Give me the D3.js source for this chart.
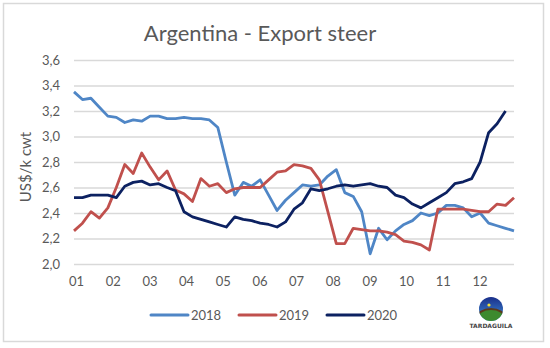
<!DOCTYPE html>
<html>
<head>
<meta charset="utf-8">
<script src="https://cdnjs.cloudflare.com/ajax/libs/d3/7.8.5/d3.min.js"></script>
<style>
  body { margin: 0; background: #fff; }
  svg { display: block; }
</style>
</head>
<body>
<svg width="550" height="348"></svg>
<script>
// weekly export steer prices, US$/k cwt
var months = ["01", "02", "03", "04", "05", "06", "07", "08", "09", "10", "11", "12"];
var yTicks = [2.0, 2.2, 2.4, 2.6, 2.8, 3.0, 3.2, 3.4, 3.6];
var seriesNames = ["2018", "2019", "2020"];
var seriesColors = ["#4f86c6", "#c0504d", "#0c2161"];

var s2018 = [3.35, 3.29, 3.30, 3.23, 3.16, 3.15, 3.11, 3.13, 3.12, 3.16,
             3.16, 3.14, 3.14, 3.15, 3.14, 3.14, 3.13, 3.07, 2.80, 2.54,
             2.64, 2.61, 2.66, 2.54, 2.42, 2.50, 2.56, 2.62, 2.61, 2.62,
             2.69, 2.74, 2.56, 2.53, 2.41, 2.08, 2.28, 2.19, 2.26, 2.31,
             2.34, 2.40, 2.38, 2.40, 2.46, 2.46, 2.44, 2.37, 2.40, 2.32,
             2.30, 2.28, 2.26];
var s2019 = [2.26, 2.32, 2.41, 2.36, 2.44, 2.60, 2.78, 2.71, 2.87, 2.76,
             2.66, 2.73, 2.58, 2.55, 2.49, 2.67, 2.61, 2.63, 2.56, 2.59,
             2.60, 2.60, 2.60, 2.66, 2.72, 2.73, 2.78, 2.77, 2.75, 2.66,
             2.41, 2.16, 2.16, 2.28, 2.27, 2.26, 2.26, 2.25, 2.23, 2.18,
             2.17, 2.15, 2.11, 2.43, 2.43, 2.43, 2.43, 2.42, 2.41, 2.41,
             2.47, 2.46, 2.52];
var s2020 = [2.52, 2.52, 2.54, 2.54, 2.54, 2.52, 2.61, 2.64, 2.65, 2.62,
             2.63, 2.60, 2.575, 2.41, 2.37, 2.35, 2.33, 2.31, 2.29, 2.37,
             2.35, 2.34, 2.32, 2.31, 2.29, 2.33, 2.43, 2.48, 2.59, 2.575,
             2.59, 2.61, 2.62, 2.61, 2.62, 2.63, 2.61, 2.60, 2.54, 2.52,
             2.47, 2.44, 2.48, 2.52, 2.56, 2.63, 2.645, 2.67, 2.80, 3.03,
             3.10, 3.20];

function main() {
    var svg = d3.select("svg"),
        margin = {top: 60, left: 74},
        width = 440,
        height = 204,
        textColor = "#595959",
        font = "Lato, 'Open Sans', sans-serif";

    // chart frame
    svg.append("rect")
       .attr("x", 3.5).attr("y", 3.5)
       .attr("width", 540).attr("height", 338)
       .attr("fill", "#fff")
       .attr("stroke", "#d9d9d9")
       .attr("stroke-width", 1.5);

    svg.append("text")
       .attr("x", 260)
       .attr("y", 41)
       .attr("text-anchor", "middle")
       .attr("font-family", font)
       .attr("font-size", "22px")
       .attr("fill", textColor)
       .text("Argentina - Export steer");

    var xScale = d3.scaleLinear().domain([0, 52]).range([0, width]),
        yScale = d3.scaleLinear().domain([2.0, 3.6]).range([height, 0]);

    var g = svg.append("g")
               .attr("transform", "translate(" + margin.left + "," + margin.top + ")");

    // gridlines + y labels
    var yAxis = g.append("g")
       .call(d3.axisLeft(yScale)
               .tickValues(yTicks)
               .tickSize(-width)
               .tickPadding(14)
               .tickFormat(function(d) { return d3.format(".1f")(d).replace(".", ","); }));
    yAxis.select(".domain").remove();
    yAxis.selectAll("line").attr("stroke", "#d9d9d9").attr("stroke-width", 1.3);
    yAxis.selectAll("text")
         .attr("fill", textColor)
         .attr("font-family", font)
         .attr("font-size", "13px");

    // month labels, one every 52/12 weeks
    var xAxis = g.append("g")
       .attr("transform", "translate(0," + height + ")")
       .call(d3.axisBottom(xScale)
               .tickValues(months.map(function(m, i) { return i * 52 / 12 + 0.25; }))
               .tickSize(0)
               .tickPadding(13)
               .tickFormat(function(d, i) { return months[i]; }));
    xAxis.select(".domain").remove();
    xAxis.selectAll("text")
         .attr("fill", textColor)
         .attr("font-family", font)
         .attr("font-size", "13px");

    g.append("text")
     .attr("transform", "rotate(-90)")
     .attr("x", -(167 - margin.top))
     .attr("y", -43)
     .attr("text-anchor", "middle")
     .attr("font-family", font)
     .attr("font-size", "15px")
     .attr("fill", textColor)
     .text("US$/k cwt");

    var line = d3.line()
                 .x(function(d, i) { return xScale(i); })
                 .y(function(d) { return yScale(d); });

    var data = [s2018, s2019, s2020];
    g.selectAll(".series")
     .data(data)
     .enter().append("path")
     .attr("class", "series")
     .attr("d", line)
     .attr("fill", "none")
     .attr("stroke", function(d, i) { return seriesColors[i]; })
     .attr("stroke-width", 2.8)
     .attr("stroke-linejoin", "round");

    // legend
    var legend = svg.append("g").attr("transform", "translate(151,315)");
    var item = legend.selectAll(".item")
                     .data(seriesNames)
                     .enter().append("g")
                     .attr("class", "item")
                     .attr("transform", function(d, i) { return "translate(" + (i * 88) + ",0)"; });
    item.append("line")
        .attr("x1", 0).attr("x2", 37)
        .attr("stroke", function(d, i) { return seriesColors[i]; })
        .attr("stroke-width", 3)
        .attr("stroke-linecap", "round");
    item.append("text")
        .attr("x", 40)
        .attr("dy", "0.35em")
        .attr("font-family", font)
        .attr("font-size", "13px")
        .attr("fill", textColor)
        .text(function(d) { return d; });

    // Tardaguila logo
    var defs = svg.append("defs");
    var grad = defs.append("linearGradient")
                   .attr("id", "sky")
                   .attr("x1", 0).attr("y1", 0).attr("x2", 0).attr("y2", 1);
    grad.append("stop").attr("offset", "0%").attr("stop-color", "#1a2f8a");
    grad.append("stop").attr("offset", "100%").attr("stop-color", "#3f8fd8");
    defs.append("clipPath").attr("id", "logoClip")
        .append("circle").attr("cx", 491).attr("cy", 309).attr("r", 12);

    var logo = svg.append("g");
    logo.append("circle")
        .attr("cx", 491).attr("cy", 309).attr("r", 12)
        .attr("fill", "url(#sky)");
    logo.append("ellipse")
        .attr("clip-path", "url(#logoClip)")
        .attr("cx", 491).attr("cy", 318).attr("rx", 14).attr("ry", 9)
        .attr("fill", "#3d8a2e")
        .attr("stroke", "#5a3a1c")
        .attr("stroke-width", 2);
    logo.append("circle")
        .attr("cx", 489).attr("cy", 305).attr("r", 1.6)
        .attr("fill", "#f2e03a");
    logo.append("text")
        .attr("x", 491).attr("y", 327.5)
        .attr("text-anchor", "middle")
        .attr("font-family", "'DejaVu Sans', sans-serif")
        .attr("font-weight", "bold")
        .attr("font-size", "6px")
        .attr("fill", "#444")
        .text("TARDAGUILA");
}

main();
</script>
</body>
</html>
